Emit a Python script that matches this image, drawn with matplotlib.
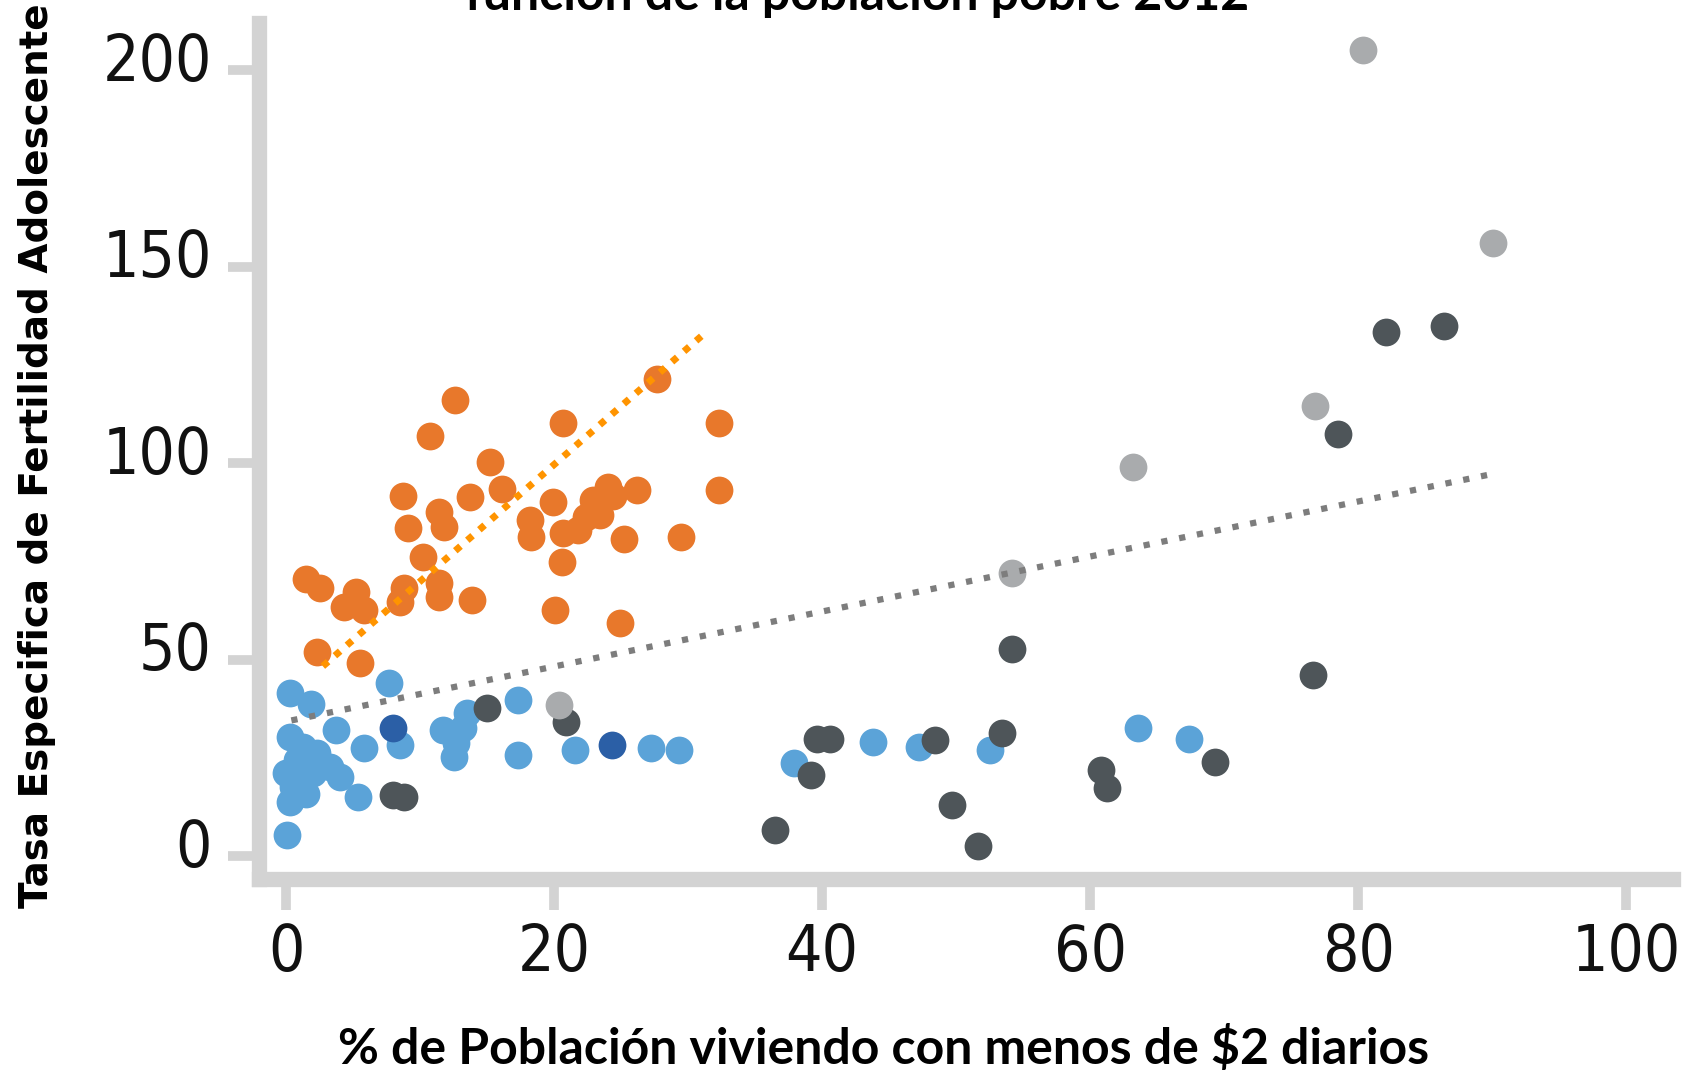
import matplotlib
matplotlib.use("Agg")
import matplotlib.pyplot as plt
from matplotlib import font_manager
from matplotlib.transforms import ScaledTranslation

# --- data ---
orange_x = [1.5, 2.5, 2.3, 4.3, 5.2, 5.8, 5.5, 8.7, 9.1, 8.8, 8.5, 10.2, 10.75, 11.4,
            11.8, 11.4, 11.4, 12.6, 13.7, 13.9, 15.2, 16.1, 18.2, 18.3, 19.95, 20.7,
            20.7, 21.8, 20.6, 20.1, 22.4, 22.9, 23.4, 24.0, 24.4, 26.2, 25.2, 24.9,
            27.7, 29.5, 32.3, 32.3]
orange_y = [70.6, 68.1, 52.0, 63.4, 67.2, 62.6, 49.0, 91.7, 83.4, 68.1, 64.7, 76.2, 107.0, 87.6,
            83.8, 69.4, 66.0, 116.0, 91.3, 65.1, 100.3, 93.3, 85.5, 81.2, 90.1, 110.3,
            82.1, 83.0, 74.7, 62.6, 86.3, 90.6, 86.8, 94.0, 91.5, 93.1, 80.8, 59.4,
            121.3, 81.2, 110.3, 93.1]

blue_x = [0.3, 1.9, 7.7, 0.3, 3.7, 5.8, 8.5, 11.7, 13.5, 13.2, 12.5, 12.7, 17.3, 17.3,
          21.6, 27.2, 29.3, 5.4, 0.05, 0.8, 2.3, 3.3, 4.0, 0.55, 0.3, 1.5, 2.0, 0.0,
          1.3, 37.9, 43.8, 47.2, 52.5, 63.6, 67.4]
blue_y = [41.4, 38.8, 43.9, 30.3, 32.1, 27.4, 28.2, 32.1, 36.3, 32.5, 25.3, 28.7, 39.8, 25.7,
          27.0, 27.4, 27.0, 15.1, 5.3, 24.4, 26.1, 22.7, 20.2, 17.6, 13.8, 15.9, 21.0, 21.0,
          27.8, 23.6, 29.1, 27.8, 27.1, 32.5, 29.9]

navy_x = [8.0, 24.3]
navy_y = [32.5, 28.2]

dark_x = [15.0, 20.9, 8.0, 8.8, 36.5, 39.2, 39.6, 40.6, 48.4, 49.7, 51.6, 53.4, 54.2,
          60.8, 61.3, 69.3, 76.6, 78.5, 82.1, 86.4]
dark_y = [37.6, 34.1, 15.5, 15.1, 6.6, 20.6, 29.9, 29.9, 29.5, 13.0, 2.5, 31.3, 52.8,
          21.9, 17.2, 24.0, 46.1, 107.5, 133.4, 134.9]

light_x = [20.4, 54.2, 63.2, 76.8, 80.4, 90.1]
light_y = [38.4, 71.9, 99.0, 114.5, 205.0, 155.9]

# trend lines (end points)
trend_orange_x = [2.75, 31.1]
trend_orange_y = [48.3, 132.6]
trend_gray_x = [0.4, 89.7]
trend_gray_y = [34.5, 97.0]

xticks = [0, 20, 40, 60, 80, 100]
yticks = [0, 50, 100, 150, 200]

# the original uses a condensed face for the numbers; take one if there is any
narrow = [f for f in font_manager.fontManager.ttflist
          if (f.stretch in ("condensed", "semi-condensed", "extra-condensed")
              or "Narrow" in f.name or "Condensed" in f.name)
          and f.weight in (400, "normal", "regular") and f.style == "normal"]
if narrow:
    tick_font = font_manager.FontProperties(fname=narrow[0].fname, size=46)
else:
    tick_font = font_manager.FontProperties(family="Lato", size=38)

fig = plt.figure(figsize=(17.03, 10.73), dpi=100)
ax = fig.add_axes([0.1522, 0.181, 0.8302, 0.7976])

size = 400
ax.scatter(blue_x, blue_y, s=size, color="#5ba3d8", linewidths=0, zorder=2)
ax.scatter(navy_x, navy_y, s=size, color="#2b5fa6", linewidths=0, zorder=2)
ax.scatter(dark_x, dark_y, s=size, color="#4e5559", linewidths=0, zorder=3)
ax.scatter(light_x, light_y, s=size, color="#a9abad", linewidths=0, zorder=3)
ax.scatter(orange_x, orange_y, s=size, color="#e8782b", linewidths=0, zorder=2)

ax.plot(trend_gray_x, trend_gray_y, color="#7d7d7d", lw=4.5,
        linestyle=(0, (1, 1.9)), dash_capstyle="butt", zorder=4)
ax.plot(trend_orange_x, trend_orange_y, color="#ff9400", lw=5,
        linestyle=(0, (1, 1.3)), dash_capstyle="butt", zorder=4)

ax.set_xlim(-2, 103.5)
ax.set_ylim(-5.8, 212)
ax.set_xticks(xticks)
ax.set_yticks(yticks)
ax.set_xticklabels([str(t) for t in xticks], fontproperties=tick_font, color="#111111")
ax.set_yticklabels([str(t) for t in yticks], fontproperties=tick_font, color="#111111")

for side in ["top", "right"]:
    ax.spines[side].set_visible(False)
for side in ["left", "bottom"]:
    ax.spines[side].set_color("#d3d3d3")
    ax.spines[side].set_linewidth(11)
ax.tick_params(axis="both", direction="out", length=22, width=7, color="#d3d3d3")
ax.tick_params(axis="x", pad=9)
ax.tick_params(axis="y", pad=12)

# y labels sit a little above their ticks in the original
off = ScaledTranslation(0, 10 / 72, fig.dpi_scale_trans)
for lab in ax.get_yticklabels():
    lab.set_transform(lab.get_transform() + off)

fig.text(0.503, 1 - 10 / 1073, "función de la población pobre 2012",
         ha="center", va="baseline", fontsize=36, fontweight="bold", family="Lato")
fig.text(0.519, 1 - 1048 / 1073, "% de Población viviendo con menos de $2 diarios",
         ha="center", va="center", fontsize=36, fontweight="bold", family="Lato")
fig.text(0.0215, 1 - 456 / 1073, "Tasa Especifica de Fertilidad Adolescente",
         ha="center", va="center", rotation=90, fontsize=28, fontweight="bold",
         family="DejaVu Sans")

fig.savefig("out.png", dpi=100)
plt.close(fig)
